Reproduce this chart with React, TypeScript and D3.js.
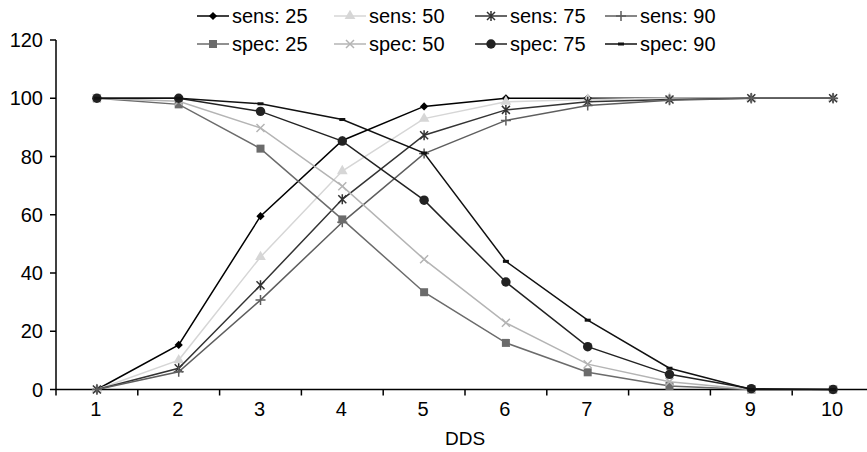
import React from 'react';
import { scaleBand, scaleLinear, line, symbol, symbolSquare, symbolTriangle, symbolCircle } from 'd3';

const categories = ['1', '2', '3', '4', '5', '6', '7', '8', '9', '10'];
const yTicks = [0, 20, 40, 60, 80, 100, 120];

const sens25 = [0, 15.3, 59.5, 85.5, 97.2, 100, 100, 100, 100, 100];
const sens50 = [0, 10.1, 45.5, 75, 93, 98.8, 99.6, 100, 100, 100];
const sens75 = [0, 7.3, 35.8, 65.3, 87.3, 96, 98.8, 99.6, 100, 100];
const sens90 = [0, 6.1, 30.7, 57.4, 81, 92.4, 97.5, 99.3, 100, 100];
const spec25 = [100, 97.9, 82.7, 58.4, 33.4, 16, 5.9, 1.2, 0, 0];
const spec50 = [100, 99, 89.8, 69.8, 44.7, 22.9, 8.7, 2.7, 0, 0];
const spec75 = [100, 100, 95.5, 85.3, 65, 36.9, 14.7, 5.2, 0.3, 0];
const spec90 = [100, 100, 98.1, 92.7, 81.2, 44, 23.8, 7.3, 0, 0];

const series = [
  { name: 'sens: 25', values: sens25, color: '#000000', marker: 'diamond' },
  { name: 'sens: 50', values: sens50, color: '#d6d6d6', marker: 'triangle' },
  { name: 'sens: 75', values: sens75, color: '#333333', marker: 'asterisk' },
  { name: 'sens: 90', values: sens90, color: '#5e5e5e', marker: 'plus' },
  { name: 'spec: 25', values: spec25, color: '#6b6b6b', marker: 'square' },
  { name: 'spec: 50', values: spec50, color: '#b4b4b4', marker: 'x' },
  { name: 'spec: 75', values: spec75, color: '#222222', marker: 'circle' },
  { name: 'spec: 90', values: spec90, color: '#111111', marker: 'dash' },
];

const W = 867;
const H = 452;
const left = 56;
const right = 874;
const top = 40;
const bottom = 389.5;
const font = '"Liberation Sans", Arial, sans-serif';

const Marker = ({ kind, x, y, color }: { kind: string; x: number; y: number; color: string }) => {
  const t = `translate(${x},${y})`;
  if (kind === 'diamond') return <path transform={`${t} rotate(45)`} d={symbol(symbolSquare, 34)()!} fill={color} />;
  if (kind === 'square') return <path transform={t} d={symbol(symbolSquare, 64)()!} fill={color} />;
  if (kind === 'triangle') return <path transform={t} d={symbol(symbolTriangle, 50)()!} fill={color} />;
  if (kind === 'circle') return <path transform={t} d={symbol(symbolCircle, 70)()!} fill={color} />;
  if (kind === 'plus')
    return <path transform={t} d="M-5,0H5M0,-5V5" stroke={color} strokeWidth={1.5} />;
  if (kind === 'x')
    return <path transform={t} d="M-4,-4L4,4M-4,4L4,-4" stroke={color} strokeWidth={1.5} />;
  if (kind === 'asterisk')
    return <path transform={t} d="M-4,-4L4,4M-4,4L4,-4M0,-5V5" stroke={color} strokeWidth={1.5} />;
  // dash
  return <rect x={x - 3} y={y - 1.5} width={6} height={3} fill={color} />;
};

const App = () => {
  const x = scaleBand<string>().domain(categories).range([left, right]);
  const y = scaleLinear().domain([0, 120]).range([bottom, top]);
  const cx = (c: string) => (x(c) as number) + x.bandwidth() / 2;

  const path = line<number>()
    .x((_, i) => cx(categories[i]))
    .y((v) => y(v));

  const legendX = [197, 334, 475, 605];
  const legendY = [16, 44];

  return (
    <svg width={W} height={H} style={{ position: 'absolute', left: 0, top: 0, background: '#fff' }} fontFamily={font}>
      {/* axes */}
      <line x1={left} x2={left} y1={top} y2={bottom} stroke="#000" strokeWidth={1.5} />
      <line x1={left} x2={W} y1={bottom} y2={bottom} stroke="#000" strokeWidth={1.5} />
      {yTicks.map((t) => (
        <g key={t}>
          <line x1={left - 6} x2={left} y1={y(t)} y2={y(t)} stroke="#000" strokeWidth={1.5} />
          <text x={43} y={y(t)} dy="0.35em" textAnchor="end" fontSize={20}>
            {t}
          </text>
        </g>
      ))}
      {categories.map((c) => (
        <g key={c}>
          <line x1={x(c)} x2={x(c)} y1={bottom} y2={bottom + 6} stroke="#000" strokeWidth={1.5} />
          <text x={cx(c) - 1} y={409} dy="0.35em" textAnchor="middle" fontSize={20}>
            {c}
          </text>
        </g>
      ))}
      <text x={(left + right) / 2} y={438} dy="0.35em" textAnchor="middle" fontSize={19}>
        DDS
      </text>

      {/* series */}
      {series.map((s) => (
        <g key={s.name}>
          <path d={path(s.values)!} fill="none" stroke={s.color} strokeWidth={1.5} />
          {s.values.map((v, i) => (
            <Marker key={i} kind={s.marker} x={cx(categories[i])} y={y(v)} color={s.color} />
          ))}
        </g>
      ))}

      {/* legend */}
      {series.map((s, i) => {
        const lx = legendX[i % 4];
        const ly = legendY[Math.floor(i / 4)];
        return (
          <g key={s.name}>
            <line x1={lx} x2={lx + 32} y1={ly} y2={ly} stroke={s.color} strokeWidth={1.5} />
            <Marker kind={s.marker} x={lx + 16} y={ly} color={s.color} />
            <text x={lx + 35} y={ly} dy="0.35em" fontSize={20}>
              {s.name}
            </text>
          </g>
        );
      })}
    </svg>
  );
};

export default App;
